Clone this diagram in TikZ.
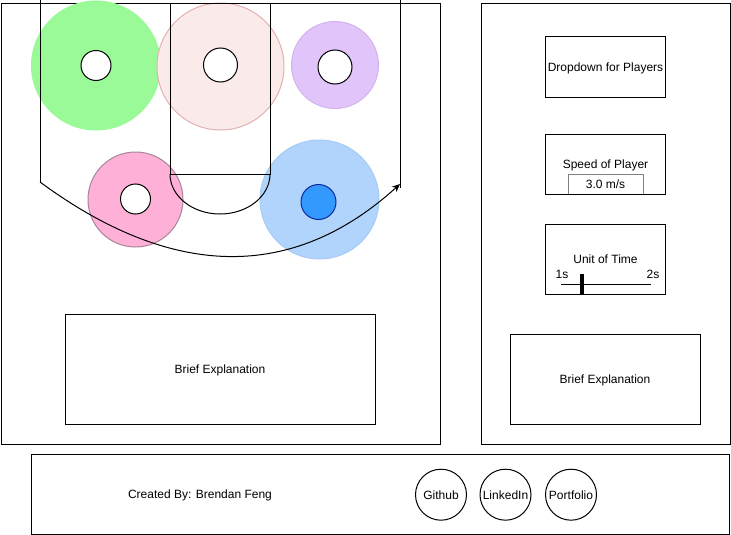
\documentclass[tikz,border=0pt]{standalone}
\usepackage{fontspec}
\setmainfont{Liberation Sans}
\usetikzlibrary{arrows.meta,shapes.geometric}
\definecolor{cgreen}{HTML}{9AFA98}
\definecolor{cpinkf}{HTML}{FAEAEA}
\definecolor{cpinkd}{HTML}{E4B0B0}
\definecolor{cpurf}{HTML}{E0C4FA}
\definecolor{cpurd}{HTML}{D2B4EE}
\definecolor{cmagf}{HTML}{FFB0D6}
\definecolor{cmagd}{HTML}{A8849A}
\definecolor{cbluef}{HTML}{B0D4FC}
\definecolor{cblued}{HTML}{A6CBF2}
\definecolor{cballf}{HTML}{3399FF}
\definecolor{cballd}{HTML}{0A2A9A}
\definecolor{cgray}{HTML}{808080}
\begin{document}
\begin{tikzpicture}[x=1pt,y=-1pt,line width=1pt,
  font=\fontsize{12}{14}\selectfont,
  every node/.style={text height=8.6pt,text depth=0pt},
  box/.style={draw,rectangle,inner sep=0pt},
  zone/.style={circle,inner sep=0pt},
  hole/.style={circle,draw,fill=white,inner sep=0pt},
  linkbtn/.style={circle,draw,inner sep=0pt,minimum size=51pt},
  lbl/.style={inner sep=0pt}]
\useasboundingbox (0,0) rectangle (731,535);
% panels
\node[box,minimum width=439pt,minimum height=440pt] (court) at (220.5,224) {};
\node[box,minimum width=249pt,minimum height=440pt] (side) at (605.5,224) {};
\node[box,minimum width=698pt,minimum height=80pt] (footer) at (380,494) {};
% player zones
\node[zone,minimum size=129pt,fill=cgreen,draw=cgreen] (z1) at (96,65.5) {};
\node[zone,minimum size=127pt,fill=cpinkf,draw=cpinkd] (z2) at (220.5,66.5) {};
\node[zone,minimum size=87pt,fill=cpurf,draw=cpurd] (z3) at (335,65) {};
\node[zone,minimum size=95pt,fill=cmagf,draw=cmagd] (z4) at (135.5,199.5) {};
\node[zone,minimum size=119pt,fill=cbluef,draw=cblued] (z5) at (319.5,199.5) {};
% court lines
\coordinate (LT) at (40,0);
\coordinate (LB) at (40,182);
\coordinate (RT) at (400,0);
\coordinate (RB) at (400,188);
\coordinate (AE) at (400,184);
\draw (LT) -- (LB);
\draw (RT) -- (RB);
\draw (170,4) rectangle (270,174);
\draw (170,174) arc[start angle=180,end angle=360,x radius=50pt,y radius=40pt];
\draw[-{Stealth[length=8pt,width=7pt,inset=2.5pt]}] (LB) .. controls (173,280) and (293,281) .. (AE);
% player markers
\node[hole,minimum size=30pt] (h1) at (96,65.5) {};
\node[hole,minimum size=34pt] (h2) at (220.5,65) {};
\node[hole,minimum size=34pt] (h3) at (335,67) {};
\node[hole,minimum size=30pt] (h4) at (135.5,199) {};
\node[circle,draw=cballd,fill=cballf,inner sep=0pt,minimum size=35pt] (ball) at (318.5,202) {};
% explanation
\node[box,minimum width=310pt,minimum height=110pt] (brief1) at (220,369) {Brief Explanation};
% side controls
\node[box,minimum width=120pt,minimum height=60pt] (drop) at (605.5,67) {Dropdown for Players};
\node[box,minimum width=120pt,minimum height=60pt] (speed) at (605.5,164) {Speed of Player};
\node[box,draw=cgray,minimum width=75pt,minimum height=20pt] (speedval) at (605.5,184) {3.0 m/s};
\draw (speed.south west) -- (speed.south east);
\node[box,minimum width=120pt,minimum height=70pt] (unit) at (605.5,259) {Unit of Time};
\coordinate (SL) at (561,284);
\coordinate (SR) at (651,284);
\draw (SL) -- (SR);
\coordinate (TT) at (582,274);
\coordinate (TB) at (582,294);
\draw[line width=4pt] (TT) -- (TB);
\node[lbl] (s1) at (562,274) {1s};
\node[lbl] (s2) at (653,274) {2s};
\node[box,minimum width=190pt,minimum height=90pt] (brief2) at (605,379) {Brief Explanation};
% footer
\node[lbl] (credit) at (200,494) {Created By: Brendan Feng};
\node[linkbtn,label={[lbl]center:Github}] (gh) at (441,494.7) {};
\node[linkbtn,label={[lbl]center:LinkedIn}] (li) at (505.5,494.7) {};
\node[linkbtn,label={[lbl]center:Portfolio}] (pf) at (571,494.7) {};
\end{tikzpicture}
\end{document}
